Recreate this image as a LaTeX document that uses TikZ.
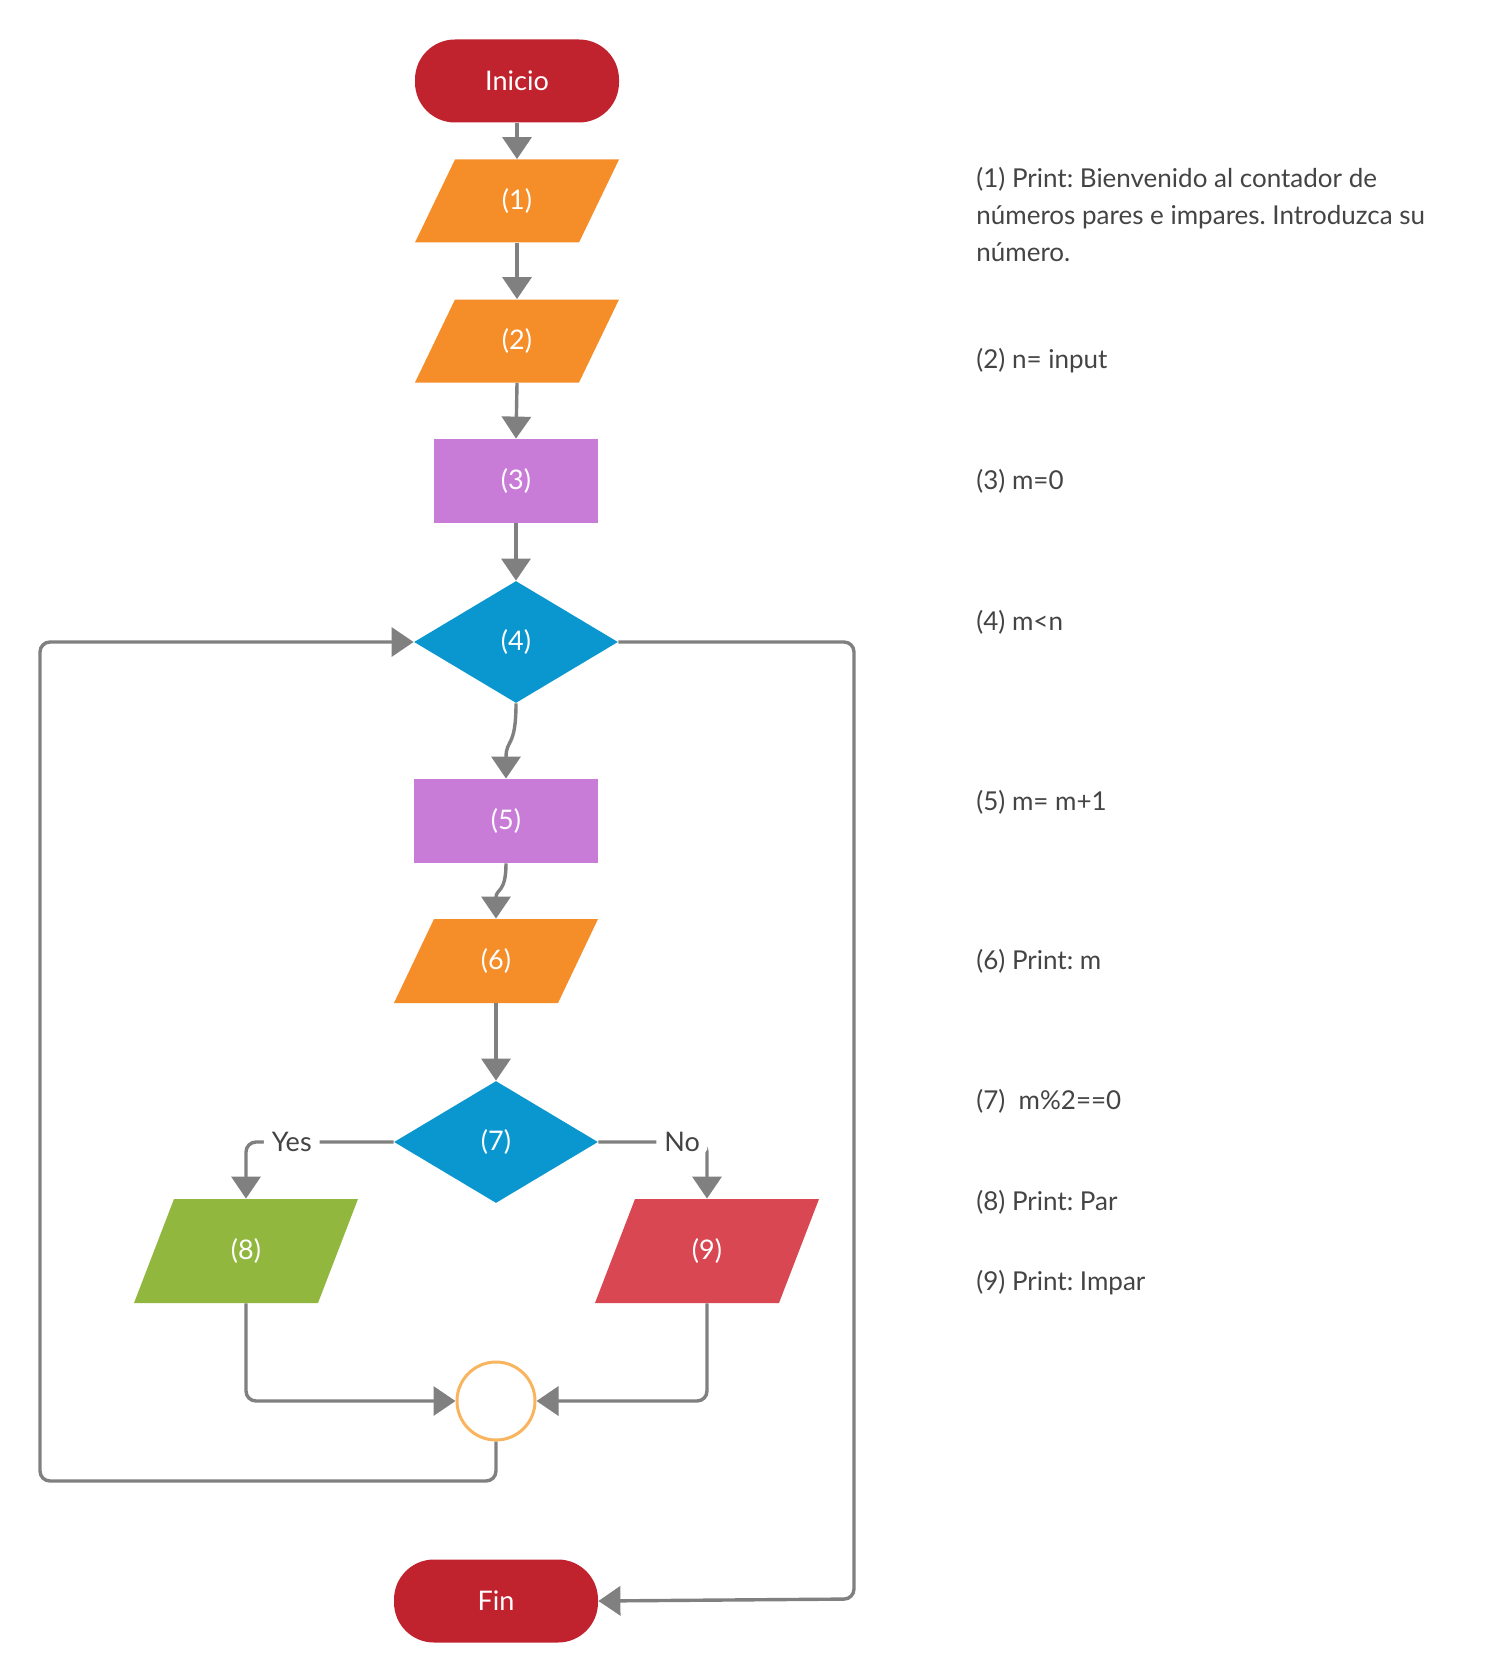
\documentclass[tikz,border=0pt]{standalone}
\usepackage{fontspec}
\setmainfont{Lato}
\usetikzlibrary{arrows.meta,shapes.geometric,calc}
\definecolor{termred}{RGB}{193,35,46}
\definecolor{ioorange}{RGB}{245,141,41}
\definecolor{procpurple}{RGB}{201,123,216}
\definecolor{decblue}{RGB}{10,151,207}
\definecolor{pargreen}{RGB}{146,183,62}
\definecolor{imparred}{RGB}{217,71,83}
\definecolor{joinorange}{RGB}{249,180,94}
\definecolor{conngray}{RGB}{128,128,128}
\definecolor{notegray}{RGB}{68,68,68}
\frenchspacing
\begin{document}
\begin{tikzpicture}[x=0.5pt,y=-0.5pt,
  lbl/.style={text=white,font=\fontsize{13.5}{16}\selectfont},
  terminal/.style={lbl,fill=termred,rounded corners=20pt,minimum width=102pt,minimum height=41.5pt,inner sep=0pt},
  proc/.style={lbl,fill=procpurple,minimum width=82pt,minimum height=42pt,inner sep=0pt},
  decision/.style={lbl,diamond,fill=decblue,minimum width=102pt,minimum height=61pt,inner sep=0pt},
  para/.style n args={3}{lbl,minimum width=#1,minimum height=#2,inner sep=0pt,
    path picture={\fill[#3] (path picture bounding box.south west) -- ([xshift=-20pt]path picture bounding box.south east) -- (path picture bounding box.north east) -- ([xshift=20pt]path picture bounding box.north west) -- cycle;}},
  joinpt/.style={circle,draw=joinorange,line width=1.5pt,minimum size=39pt,inner sep=0pt},
  conn/.style={draw=conngray,line width=1.7pt,rounded corners=5pt,-{Triangle[width=14.5pt,length=11pt]}},
  linelbl/.style={text=notegray,fill=white,font=\fontsize{13.5}{16}\selectfont,inner xsep=4pt,inner ysep=2pt},
  note/.style={text=notegray,font=\fontsize{13}{18.5}\selectfont,align=left,inner sep=0pt,anchor=west}]
\useasboundingbox (0,0) rectangle (1496,1680);

\node[terminal] (ini) at (517,81) {Inicio};
\node[para={102pt}{41.5pt}{ioorange}] (n1) at (517,201) {(1)};
\node[para={102pt}{41.5pt}{ioorange}] (n2) at (517,341) {(2)};
\node[proc] (n3) at (516,481) {(3)};
\node[decision] (n4) at (516,642) {(4)};
\node[proc,minimum width=92pt] (n5) at (506,821) {(5)};
\node[para={102pt}{42pt}{ioorange}] (n6) at (496,961) {(6)};
\node[decision] (n7) at (496,1142) {(7)};
\node[para={112pt}{52pt}{pargreen}] (n8) at (246,1251) {(8)};
\node[para={112pt}{52pt}{imparred}] (n9) at (707,1251) {(9)};
\node[joinpt] (nj) at (496,1401) {};
\node[terminal] (fin) at (496,1601) {Fin};

\coordinate (lb) at (40,1481);
\coordinate (rb) at (854,1599);

\draw[conn] (ini.south) -- (n1.north);
\draw[conn] (n1.south) -- (n2.north);
\draw[conn] (n2.south) -- (n3.north);
\draw[conn] (n3.south) -- (n4.north);
\draw[conn] (n4.south) .. controls +(0,45) and +(0,-40) .. (n5.north);
\draw[conn] (n5.south) .. controls +(0,30) and +(0,-30) .. (n6.north);
\draw[conn] (n6.south) -- (n7.north);
\draw[conn] (n7.west) -| node[pos=0.345,linelbl]{Yes} (n8.north);
\draw[conn] (n7.east) -| node[pos=0.385,linelbl]{No} (n9.north);
\draw[conn] (n8.south) |- (nj.west);
\draw[conn] (n9.south) |- (nj.east);
\draw[conn] (nj.south) |- (lb) |- (n4.west);
\draw[conn] (n4.east) -| (rb) -- (fin.east);

\node[note] (t1) at (976,215) {(1) Print: Bienvenido al contador de\\números pares e impares. Introduzca su\\número.};
\node[note] (t2) at (976,361) {(2) n= input};
\node[note] (t3) at (976,481) {(3) m=0};
\node[note] (t4) at (976,622) {(4) m<n};
\node[note] (t5) at (976,802) {(5) m= m+1};
\node[note] (t6) at (976,961) {(6) Print: m};
\node[note] (t7) at (976,1101) {(7)\ \ m\%2==0};
\node[note] (t8) at (976,1202) {(8) Print: Par};
\node[note] (t9) at (976,1283) {(9) Print: Impar};
\end{tikzpicture}
\end{document}
